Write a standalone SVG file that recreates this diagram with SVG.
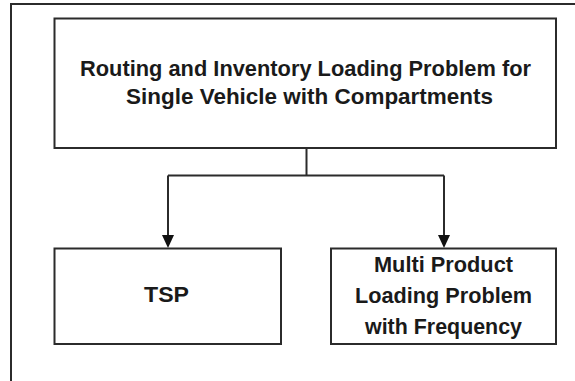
<svg xmlns="http://www.w3.org/2000/svg" width="575" height="381" viewBox="0 0 575 381">
<defs>
<style>
.box{fill:#fff;stroke:#2b2b2b;stroke-width:2}
.ln{fill:none;stroke:#2b2b2b;stroke-width:2}
.t{font-family:"Liberation Sans",Arial,sans-serif;font-weight:bold;font-size:21.5px;fill:#1a1a1a;text-anchor:middle}
</style>
</defs>
<rect width="575" height="381" fill="#fff"/>
<g id="frame">
<path class="ln" d="M11,381 L11,4 L575,4"/>
</g>
<g id="connectors">
<path class="ln" d="M306.5,148 L306.5,175.5"/>
<path class="ln" d="M168,175.5 L444,175.5"/>
<line x1="168" y1="175.5" x2="168" y2="236" class="ln"/>
<line x1="444" y1="175.5" x2="444" y2="236" class="ln"/>
<path d="M162,235 L174,235 L168,248 Z" fill="#111"/>
<path d="M438,235 L450,235 L444,248 Z" fill="#111"/>
</g>
<g id="root">
<rect class="box" x="54.5" y="18.5" width="501.5" height="129.5"/>
<text class="t" x="305.5" y="76" textLength="451" lengthAdjust="spacingAndGlyphs">Routing and Inventory Loading Problem for</text>
<text class="t" x="309.5" y="104" textLength="367" lengthAdjust="spacingAndGlyphs">Single Vehicle with Compartments</text>
</g>
<g id="tsp">
<rect class="box" x="54.5" y="248.5" width="226.5" height="95.5"/>
<text class="t" x="166.5" y="302" textLength="45" lengthAdjust="spacingAndGlyphs">TSP</text>
</g>
<g id="mplp">
<rect class="box" x="331" y="248.5" width="225" height="95.5"/>
<text class="t" x="443.5" y="272" textLength="139" lengthAdjust="spacingAndGlyphs">Multi Product</text>
<text class="t" x="443.5" y="303" textLength="177" lengthAdjust="spacingAndGlyphs">Loading Problem</text>
<text class="t" x="443.5" y="334" textLength="157" lengthAdjust="spacingAndGlyphs">with Frequency</text>
</g>
</svg>
